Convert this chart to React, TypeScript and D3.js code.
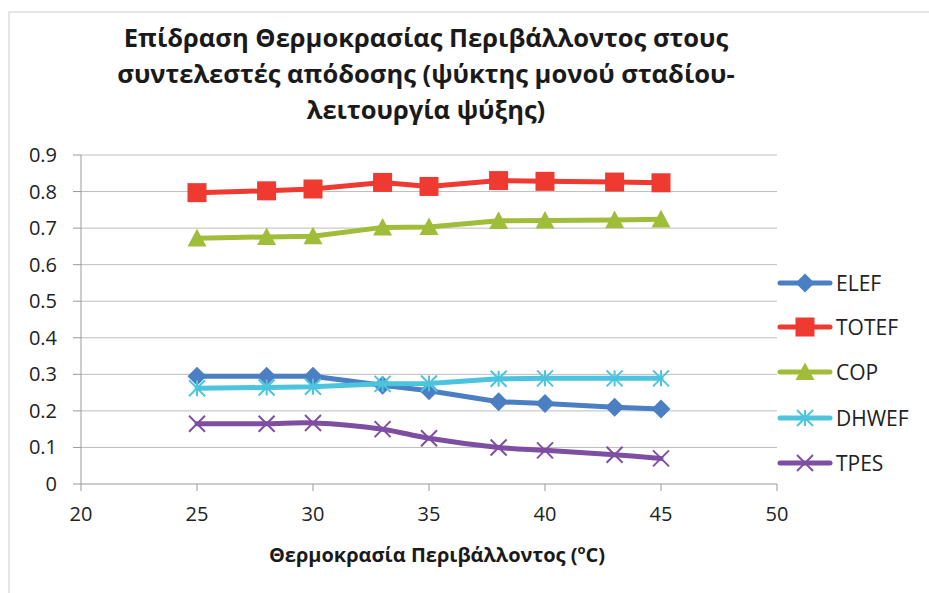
import React from "react";
import * as d3 from "d3";

const temps = [25, 28, 30, 33, 35, 38, 40, 43, 45];
const elef = [0.295, 0.295, 0.295, 0.27, 0.255, 0.225, 0.22, 0.21, 0.205];
const totef = [0.797, 0.802, 0.807, 0.825, 0.814, 0.83, 0.828, 0.826, 0.824];
const cop = [0.672, 0.676, 0.678, 0.702, 0.703, 0.72, 0.721, 0.722, 0.724];
const dhwef = [0.262, 0.264, 0.266, 0.274, 0.275, 0.288, 0.289, 0.289, 0.289];
const tpes = [0.165, 0.165, 0.167, 0.15, 0.125, 0.1, 0.092, 0.08, 0.07];
const yTicks = [0, 0.1, 0.2, 0.3, 0.4, 0.5, 0.6, 0.7, 0.8, 0.9];
const xTicks = [20, 25, 30, 35, 40, 45, 50];
const seriesNames = ["ELEF", "TOTEF", "COP", "DHWEF", "TPES"];
const titleLines = [
  "Επίδραση Θερμοκρασίας Περιβάλλοντος στους",
  "συντελεστές απόδοσης (ψύκτης μονού σταδίου-",
  "λειτουργία ψύξης)",
];
const xLabel = "Θερμοκρασία Περιβάλλοντος (";

const series = [
  { name: seriesNames[0], values: elef, color: "#4a7fc4", marker: "diamond", smooth: false },
  { name: seriesNames[1], values: totef, color: "#ee3a31", marker: "square", smooth: false },
  { name: seriesNames[2], values: cop, color: "#a0bd3a", marker: "triangle", smooth: false },
  { name: seriesNames[3], values: dhwef, color: "#4cc4de", marker: "star", smooth: false },
  { name: seriesNames[4], values: tpes, color: "#7e4ea3", marker: "x", smooth: true },
];

const FONT = "'Open Sans', 'Noto Sans', sans-serif";

function Marker({ type, x, y, color }: { type: string; x: number; y: number; color: string }) {
  if (type === "diamond") {
    const s = 9.5;
    return <path d={`M${x},${y - s}L${x + s},${y}L${x},${y + s}L${x - s},${y}Z`} fill={color} />;
  }
  if (type === "square") {
    const s = 9.5;
    return <rect x={x - s} y={y - s} width={2 * s} height={2 * s} fill={color} />;
  }
  if (type === "triangle") {
    const s = 9.5;
    return <path d={`M${x},${y - s}L${x + s},${y + s * 0.85}L${x - s},${y + s * 0.85}Z`} fill={color} />;
  }
  if (type === "star") {
    const s = 8;
    return (
      <g stroke={color} strokeWidth={2}>
        <line x1={x} y1={y - s} x2={x} y2={y + s} />
        <line x1={x - s} y1={y - s} x2={x + s} y2={y + s} />
        <line x1={x - s} y1={y + s} x2={x + s} y2={y - s} />
      </g>
    );
  }
  const s = 8;
  return (
    <g stroke={color} strokeWidth={2}>
      <line x1={x - s} y1={y - s} x2={x + s} y2={y + s} />
      <line x1={x - s} y1={y + s} x2={x + s} y2={y - s} />
    </g>
  );
}

export default function App() {
  const W = 929;
  const H = 593;
  const x = d3.scaleLinear().domain([20, 50]).range([81, 777]);
  const y = d3.scaleLinear().domain([0, 0.9]).range([484, 155]);

  const legendY = [283, 327, 372, 418, 463];

  return (
    <svg
      width={W}
      height={H}
      style={{ position: "absolute", left: 0, top: 0, background: "#fff" }}
      fontFamily={FONT}
    >
      <rect x={9} y={12} width={W} height={H} fill="#fff" stroke="#d4d4dc" strokeWidth={1.2} />
      {titleLines.map((t, i) => (
        <text
          key={i}
          x={426}
          y={47 + i * 36}
          textAnchor="middle"
          fontSize={25.5}
          fontWeight={700}
          fill="#1a1a1a"
        >
          {t}
        </text>
      ))}
      {yTicks.map((v) => (
        <g key={v}>
          {v > 0 && (
            <line x1={x(20)} x2={x(50)} y1={y(v)} y2={y(v)} stroke="#bdbdbd" strokeWidth={1} />
          )}
          <line x1={73} x2={x(20)} y1={y(v)} y2={y(v)} stroke="#9a9a9a" strokeWidth={1} />
          <text x={57} y={y(v) + 7} textAnchor="end" fontSize={20} fill="#222">
            {v === 0 ? "0" : d3.format(".1f")(v)}
          </text>
        </g>
      ))}
      <line x1={x(20)} x2={x(20)} y1={y(0.9)} y2={y(0)} stroke="#9a9a9a" strokeWidth={1} />
      <line x1={x(20)} x2={x(50)} y1={y(0)} y2={y(0)} stroke="#9a9a9a" strokeWidth={1} />
      {xTicks.map((v) => (
        <g key={v}>
          <line x1={x(v)} x2={x(v)} y1={y(0)} y2={y(0) + 7} stroke="#9a9a9a" strokeWidth={1} />
          <text x={x(v)} y={y(0) + 37} textAnchor="middle" fontSize={20} fill="#222">
            {v}
          </text>
        </g>
      ))}
      <text x={437} y={562} textAnchor="middle" fontSize={20} fontWeight={700} fill="#1a1a1a">
        {xLabel}
        <tspan fontSize={13} dy={-8}>o</tspan>
        <tspan dy={8}>C)</tspan>
      </text>
      {series.map((s) => {
        const gen = d3
          .line<number>()
          .x((_, i) => x(temps[i]))
          .y((d) => y(d))
          .curve(s.smooth ? d3.curveCatmullRom.alpha(0.5) : d3.curveLinear);
        return (
          <g key={s.name}>
            <path d={gen(s.values) || ""} fill="none" stroke={s.color} strokeWidth={5} strokeLinejoin="round" strokeLinecap="round" />
            {s.values.map((v, i) => (
              <Marker key={i} type={s.marker} x={x(temps[i])} y={y(v)} color={s.color} />
            ))}
          </g>
        );
      })}
      {series.map((s, i) => (
        <g key={s.name}>
          <line x1={780} x2={830} y1={legendY[i]} y2={legendY[i]} stroke={s.color} strokeWidth={5} strokeLinecap="round" />
          <Marker type={s.marker} x={805} y={legendY[i]} color={s.color} />
          <text x={836} y={legendY[i] + 7.5} fontSize={21} fill="#222">
            {s.name}
          </text>
        </g>
      ))}
    </svg>
  );
}
